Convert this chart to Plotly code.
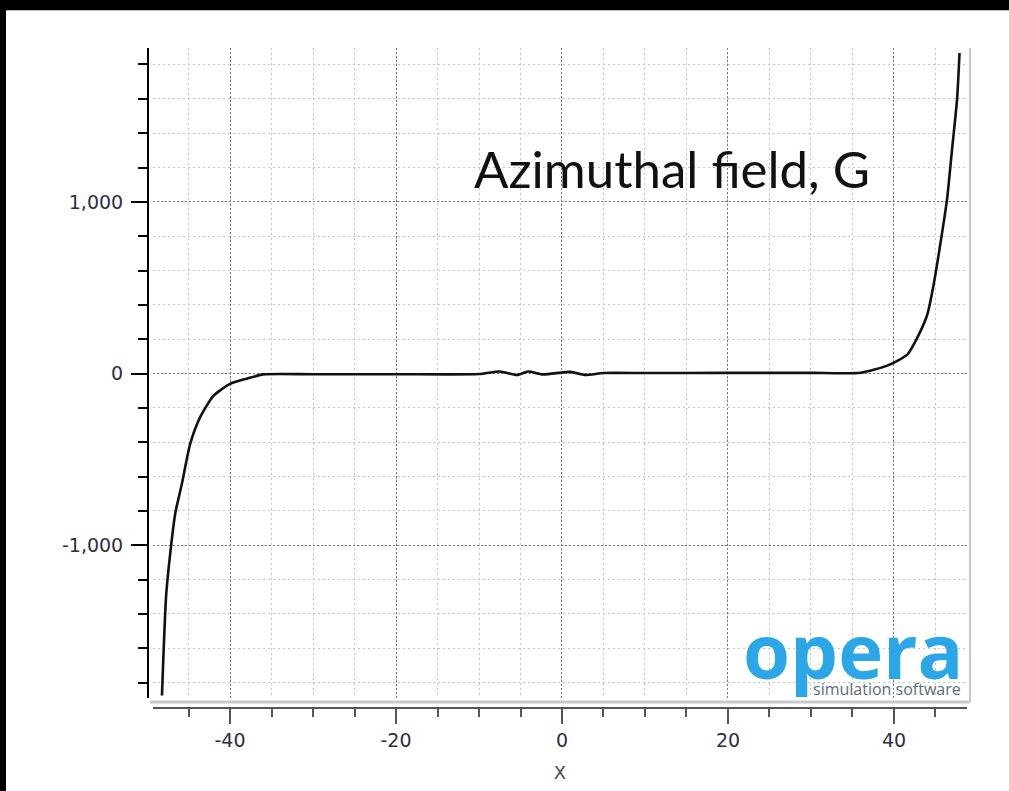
import plotly.graph_objects as go

# ---- data ----
x_pos = [-48.2, -47.7, -47.2, -46.6, -45.8, -44.8, -43.6, -42.0, -40.0, -38.0, -36.0,
         -30.0, -20.0, -10.0, -7.5, -5.4, -4.1, -2.3, 1.0, 2.8, 5.0, 10.0, 20.0, 30.0,
         36.0, 39.2, 41.6, 42.8, 44.0, 44.7, 45.5, 46.4, 47.0, 47.6, 47.9]
field_g = [-1875, -1295, -1046, -815, -642, -410, -254, -130, -60, -30, -5,
           -4, -4, -3, 12, -8, 12, -5, 10, -8, 3, 3, 4, 4,
           5, 46, 110, 208, 341, 497, 728, 1017, 1306, 1595, 1867]

x_tick_vals = [-40, -20, 0, 20, 40]
x_tick_text = ["-40", "-20", "0", "20", "40"]
y_tick_vals = [-1000, 0, 1000]
y_tick_text = ["-1,000", "0", "1,000"]

x_range = [-49.28, 48.80]
y_range = [-1890, 1896]
title_text = "Azimuthal field, G"
logo_text = "opera"
logo_sub = "simulation software"
x_title = "X"

W, H = 1009, 791
ML, MR, MT, MB = 148, 39, 48, 78
PW, PH = W - ML - MR, H - MT - MB


def px(xp):
    return (xp - ML) / PW


def py(yp):
    return (H - MB - yp) / PH


fig = go.Figure()
fig.add_trace(go.Scatter(
    x=x_pos, y=field_g, mode="lines",
    line=dict(color="#111111", width=2.6, shape="spline", smoothing=0.6),
    showlegend=False, hoverinfo="skip"))

tickfont = dict(family="DejaVu Sans", size=19, color="#2e2e44")

fig.update_layout(
    width=W, height=H,
    margin=dict(l=ML, r=MR, t=MT, b=MB),
    paper_bgcolor="black",
    plot_bgcolor="white",
    showlegend=False,
    xaxis=dict(
        domain=[px(153), px(967)],
        range=x_range, anchor="free", position=0,
        showline=True, linecolor="#555555", linewidth=2,
        ticks="outside", ticklen=15, tickwidth=2, tickcolor="#555555",
        tickmode="array", tickvals=x_tick_vals, ticktext=x_tick_text, tickfont=tickfont,
        showgrid=True, gridcolor="#7a7a7a", gridwidth=1, griddash="2px,2px",
        zeroline=False,
        minor=dict(tickmode="linear", tick0=0, dtick=5, ticks="outside", ticklen=8,
                   tickwidth=2, tickcolor="#555555",
                   showgrid=True, gridcolor="#c4c4c4", gridwidth=1, griddash="2px,3px"),
        title=dict(text=x_title, font=dict(family="DejaVu Sans", size=18, color="#4a4a5a"),
                   standoff=16),
    ),
    yaxis=dict(
        domain=[py(703), 1],
        range=y_range, anchor="free", position=0,
        showline=True, linecolor="black", linewidth=2,
        ticks="outside", ticklen=16, tickwidth=2, tickcolor="black",
        tickmode="array", tickvals=y_tick_vals, ticktext=y_tick_text, tickfont=tickfont,
        ticklabelstandoff=4,
        showgrid=True, gridcolor="#7a7a7a", gridwidth=1, griddash="2px,2px",
        zeroline=False,
        minor=dict(tickmode="linear", tick0=0, dtick=200, ticks="outside", ticklen=9,
                   tickwidth=2, tickcolor="black",
                   showgrid=True, gridcolor="#c4c4c4", gridwidth=1, griddash="2px,3px"),
    ),
    shapes=[
        dict(type="rect", xref="paper", yref="paper", layer="below",
             x0=px(6), x1=px(W + 10), y0=py(H + 10), y1=py(10),
             fillcolor="white", line=dict(width=0)),
        dict(type="line", xref="paper", yref="paper",
             x0=px(150), x1=px(970), y0=py(707), y1=py(707),
             line=dict(color="#c8c8c8", width=3)),
        dict(type="line", xref="paper", yref="paper",
             x0=px(970), x1=px(970), y0=py(707), y1=py(48),
             line=dict(color="#c8c8c8", width=2)),
    ],
    annotations=[
        dict(text=title_text, xref="paper", yref="paper",
             x=px(671.5), y=py(169), xanchor="center", yanchor="middle",
             showarrow=False, font=dict(family="Lato", size=51, color="#111111")),
        dict(text=logo_text, xref="paper", yref="paper",
             x=px(853), y=py(654), xanchor="center", yanchor="middle",
             showarrow=False, font=dict(family="Open Sans", size=76, color="#2ba6e6", weight="bold")),
        dict(text=logo_sub, xref="paper", yref="paper",
             x=px(963), y=py(694), xanchor="right", yanchor="middle",
             showarrow=False, font=dict(family="Open Sans", size=16, color="#5d6d7d")),
    ],
)

fig.write_html("out.html", config={"displayModeBar": False},
               post_script="document.body.style.margin='0';document.body.style.background='black';")
